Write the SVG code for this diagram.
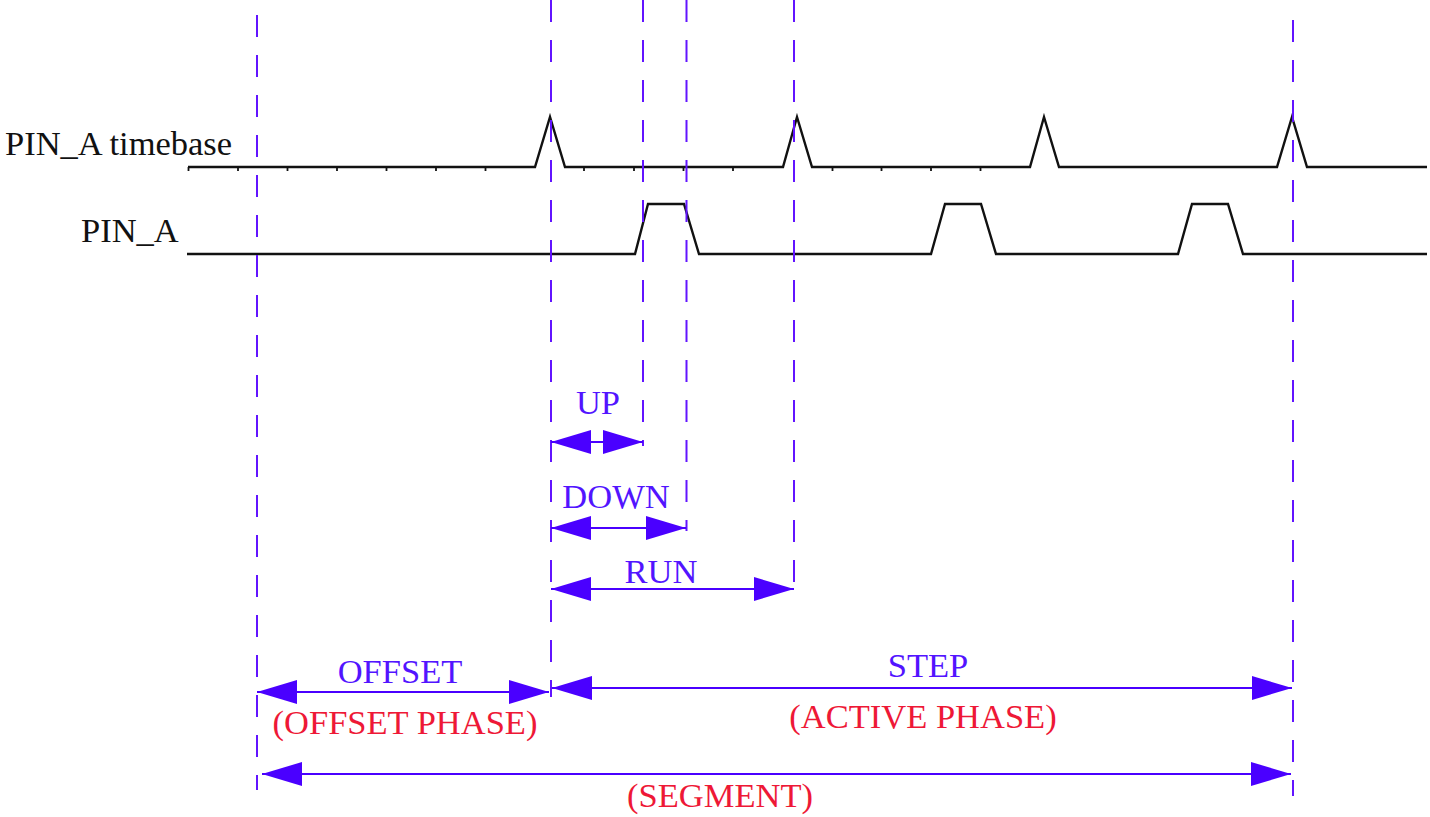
<svg xmlns="http://www.w3.org/2000/svg" width="1430" height="817" viewBox="0 0 1430 817">
<defs>
<style>
.sig{fill:none;stroke:#111;stroke-width:2.4;stroke-linejoin:miter}
.tick{stroke:#111;stroke-width:1.8}
.dash{stroke:#6214ff;stroke-width:2;stroke-dasharray:22 18;fill:none}
.arr{stroke:#4a00ff;stroke-width:2.2;marker-start:url(#ah);marker-end:url(#ah)}
.lbl{font-family:"Liberation Serif","Times New Roman",serif;font-size:34.5px}
.blk{fill:#111}
.blu{fill:#5214ff;text-anchor:middle}
.red{fill:#ee1836;text-anchor:middle}
</style>
<marker id="ah" viewBox="0 0 40 24" markerWidth="40" markerHeight="24" refX="40" refY="12" markerUnits="userSpaceOnUse" orient="auto-start-reverse">
<path d="M0,0 L40,12 L0,24 z" fill="#4a00ff"/>
</marker>
</defs>
<rect width="1430" height="817" fill="#fff"/>

<g id="timebase">
<text class="lbl blk" x="5" y="155">PIN_A timebase</text>
<path class="sig" d="M188,167 H535 L550,117 L565,167 H783 L797,117 L812,167 H1030 L1044,117 L1059,167 H1277 L1292,117 L1307,167 H1427"/>
<g class="tick">
<line x1="188.5" y1="167" x2="188.5" y2="171"/>
<line x1="238" y1="167" x2="238" y2="171"/>
<line x1="287.5" y1="167" x2="287.5" y2="171"/>
<line x1="337" y1="167" x2="337" y2="171"/>
<line x1="386.5" y1="167" x2="386.5" y2="171"/>
<line x1="436" y1="167" x2="436" y2="171"/>
<line x1="485.5" y1="167" x2="485.5" y2="171"/>
<line x1="584" y1="167" x2="584" y2="171"/>
<line x1="634" y1="167" x2="634" y2="171"/>
<line x1="683.5" y1="167" x2="683.5" y2="171"/>
<line x1="733" y1="167" x2="733" y2="171"/>
<line x1="832.5" y1="167" x2="832.5" y2="171"/>
<line x1="881.5" y1="167" x2="881.5" y2="171"/>
<line x1="931" y1="167" x2="931" y2="171"/>
<line x1="980.5" y1="167" x2="980.5" y2="171"/>
</g>
</g>

<g id="pin_a">
<text class="lbl blk" x="81" y="242">PIN_A</text>
<path class="sig" d="M187,254 H635 L648,204 H684 L699,254 H931 L945,204 H981 L996,254 H1178 L1192,204 H1228 L1243,254 H1427"/>
</g>

<g id="guides">
<line class="dash" x1="257" y1="15" x2="257" y2="790"/>
<line class="dash" x1="551" y1="0" x2="551" y2="697"/>
<line class="dash" x1="643" y1="0" x2="643" y2="446"/>
<line class="dash" x1="686.5" y1="0" x2="686.5" y2="531"/>
<line class="dash" x1="794" y1="0" x2="794" y2="591"/>
<line class="dash" x1="1293" y1="20" x2="1293" y2="796"/>
</g>

<g id="connectors">
<line class="arr" x1="551" y1="442" x2="643" y2="442"/>
<line class="arr" x1="551" y1="528" x2="686" y2="528"/>
<line class="arr" x1="551" y1="589" x2="794" y2="589"/>
<line class="arr" x1="257" y1="692" x2="549" y2="692"/>
<line class="arr" x1="552" y1="688" x2="1292" y2="688"/>
<line class="arr" x1="262" y1="774" x2="1291" y2="774"/>
</g>

<g id="labels">
<text class="lbl blu" x="598" y="414">UP</text>
<text class="lbl blu" x="616" y="508">DOWN</text>
<text class="lbl blu" x="661" y="583">RUN</text>
<text class="lbl blu" x="400" y="683">OFFSET</text>
<text class="lbl red" x="405" y="734">(OFFSET PHASE)</text>
<text class="lbl blu" x="928" y="677">STEP</text>
<text class="lbl red" x="923" y="728">(ACTIVE PHASE)</text>
<text class="lbl red" x="720" y="807">(SEGMENT)</text>
</g>
</svg>
